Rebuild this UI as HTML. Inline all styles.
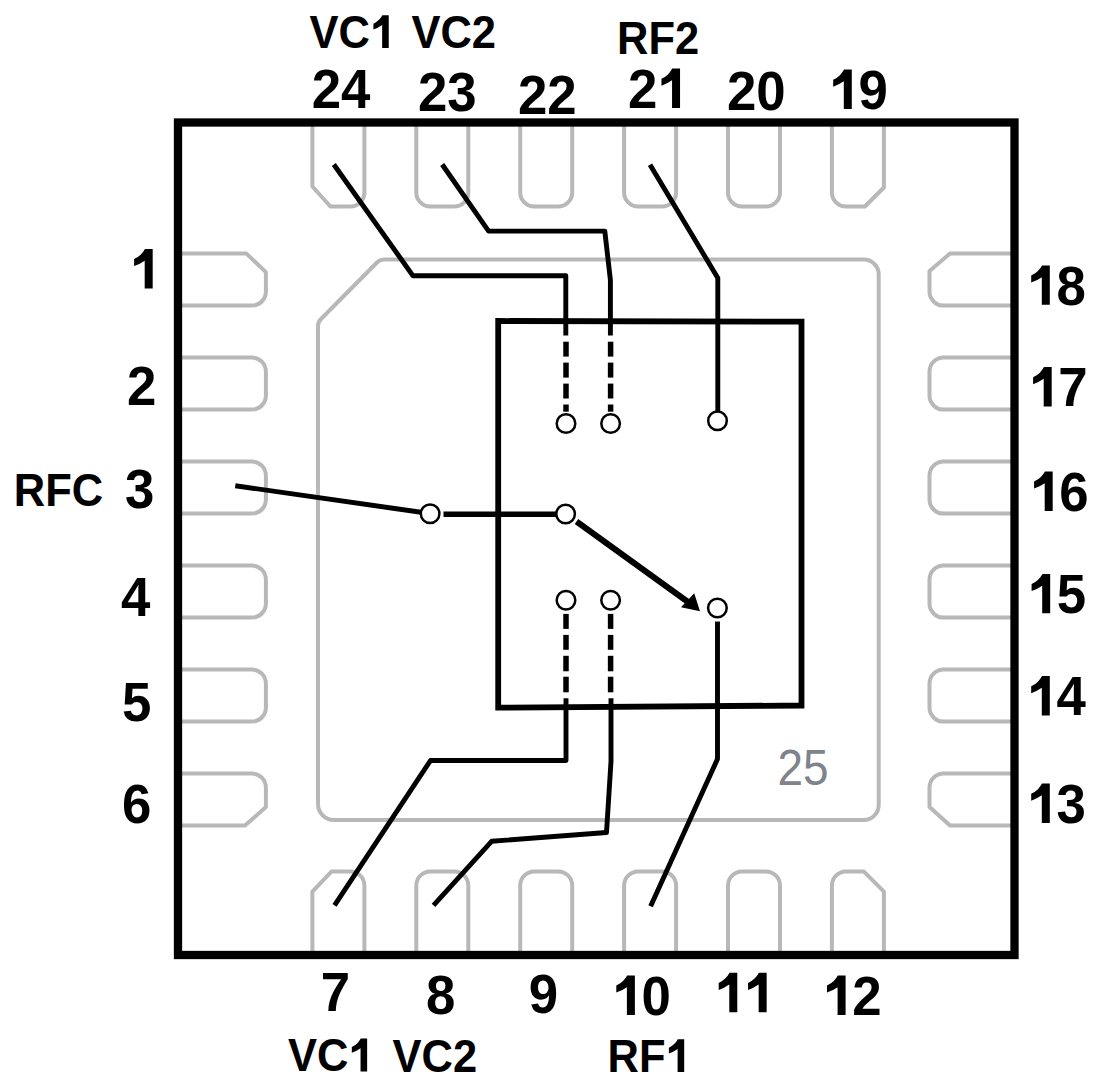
<!DOCTYPE html>
<html><head><meta charset="utf-8"><style>
html,body{margin:0;padding:0;background:#fff;width:1100px;height:1087px;overflow:hidden}
svg{position:absolute;left:0;top:0}
</style></head><body>
<svg width="1100" height="1087" viewBox="0 0 1100 1087">
<g fill="none" stroke="#b8b8b8" stroke-width="4" stroke-linejoin="round">
<path d="M312.4,120 V186.5 L330.4,206.5 H350.4 A14,14 0 0 0 364.4,192.5 V120"/>
<path d="M416.3,120 V192.5 A14,14 0 0 0 430.3,206.5 H454.3 A14,14 0 0 0 468.3,192.5 V120"/>
<path d="M520.2,120 V192.5 A14,14 0 0 0 534.2,206.5 H558.2 A14,14 0 0 0 572.2,192.5 V120"/>
<path d="M624.1,120 V192.5 A14,14 0 0 0 638.1,206.5 H662.1 A14,14 0 0 0 676.1,192.5 V120"/>
<path d="M728.0,120 V192.5 A14,14 0 0 0 742.0,206.5 H766.0 A14,14 0 0 0 780.0,192.5 V120"/>
<path d="M831.9,120 V192.5 A14,14 0 0 0 845.9,206.5 H864.9 L883.9,187.5 V120"/>
<path d="M312.4,958 V891.6 L331.4,871.6 H350.4 A14,14 0 0 1 364.4,885.6 V958"/>
<path d="M416.3,958 V885.6 A14,14 0 0 1 430.3,871.6 H454.3 A14,14 0 0 1 468.3,885.6 V958"/>
<path d="M520.2,958 V885.6 A14,14 0 0 1 534.2,871.6 H558.2 A14,14 0 0 1 572.2,885.6 V958"/>
<path d="M624.1,958 V885.6 A14,14 0 0 1 638.1,871.6 H662.1 A14,14 0 0 1 676.1,885.6 V958"/>
<path d="M728.0,958 V885.6 A14,14 0 0 1 742.0,871.6 H766.0 A14,14 0 0 1 780.0,885.6 V958"/>
<path d="M831.9,958 V885.6 A14,14 0 0 1 845.9,871.6 H863.9 L883.9,891.6 V958"/>
<path d="M176,253.6 H246.4 L265.9,272.1 V291.6 A14,14 0 0 1 251.9,305.6 H176"/>
<path d="M176,357.6 H251.9 A14,14 0 0 1 265.9,371.6 V395.6 A14,14 0 0 1 251.9,409.6 H176"/>
<path d="M176,461.6 H251.9 A14,14 0 0 1 265.9,475.6 V499.6 A14,14 0 0 1 251.9,513.6 H176"/>
<path d="M176,565.6 H251.9 A14,14 0 0 1 265.9,579.6 V603.6 A14,14 0 0 1 251.9,617.6 H176"/>
<path d="M176,669.6 H251.9 A14,14 0 0 1 265.9,683.6 V707.6 A14,14 0 0 1 251.9,721.6 H176"/>
<path d="M176,773.6 H251.9 A14,14 0 0 1 265.9,787.6 V807.1 L244.9,825.6 H176"/>
<path d="M1016,253.6 H950.0 L929.5,271.1 V291.6 A14,14 0 0 0 943.5,305.6 H1016"/>
<path d="M1016,357.6 H943.5 A14,14 0 0 0 929.5,371.6 V395.6 A14,14 0 0 0 943.5,409.6 H1016"/>
<path d="M1016,461.6 H943.5 A14,14 0 0 0 929.5,475.6 V499.6 A14,14 0 0 0 943.5,513.6 H1016"/>
<path d="M1016,565.6 H943.5 A14,14 0 0 0 929.5,579.6 V603.6 A14,14 0 0 0 943.5,617.6 H1016"/>
<path d="M1016,669.6 H943.5 A14,14 0 0 0 929.5,683.6 V707.6 A14,14 0 0 0 943.5,721.6 H1016"/>
<path d="M1016,773.6 H943.5 A14,14 0 0 0 929.5,787.6 V807.1 L950.0,825.6 H1016"/>
<path d="M318,326 Q318,322 321,319 L377,262.5 Q380,259.5 384,259.5 H864 A15,15 0 0 1 878.7,274.5 V805 A15,15 0 0 1 863.7,820 H334 A16,16 0 0 1 318,804 Z"/>
</g>
<rect x="178" y="122.5" width="836.5" height="832.5" fill="none" stroke="#000" stroke-width="8.3"/>
<path d="M498.2,321 L801.5,321.7 L801.5,705.5 L498.2,707.7 Z" fill="none" stroke="#000" stroke-width="5.8"/>
<g fill="none" stroke="#000" stroke-width="4.9" stroke-linejoin="round">
<path d="M333.8,164.5 L413,275.8 H565.8 V335.5"/>
<path d="M442.2,164.5 L488.6,231.1 H604.8 L610.4,280 V335.5"/>
<path d="M650,164.7 L717.8,278 V411.5"/>
<path d="M235.3,485.7 L421,512.3"/>
<path d="M717.5,621.5 V759 L650.6,906.3"/>
<path d="M566,698.3 V760.5 H430.5 L334.5,905.3"/>
<path d="M611,698.3 V761.3 L606.5,832.5 L491.6,841.3 L433.5,905.3"/>
</g>
<g stroke="#000">
<line x1="566" y1="341.7" x2="566" y2="356.6" stroke-width="5.5"/>
<line x1="566" y1="362.6" x2="566" y2="377.6" stroke-width="5.5"/>
<line x1="566" y1="383.6" x2="566" y2="398.5" stroke-width="5.5"/>
<line x1="566" y1="404.5" x2="566" y2="411.7" stroke-width="5.5"/>
<line x1="610.6" y1="341.7" x2="610.6" y2="356.6" stroke-width="5.5"/>
<line x1="610.6" y1="362.6" x2="610.6" y2="377.6" stroke-width="5.5"/>
<line x1="610.6" y1="383.6" x2="610.6" y2="398.5" stroke-width="5.5"/>
<line x1="610.6" y1="404.5" x2="610.6" y2="411.7" stroke-width="5.5"/>
<line x1="566" y1="613.9" x2="566" y2="628.9" stroke-width="5.5"/>
<line x1="566" y1="634.9" x2="566" y2="649.8" stroke-width="5.5"/>
<line x1="566" y1="655.8" x2="566" y2="671.3" stroke-width="5.5"/>
<line x1="566" y1="676.7" x2="566" y2="692.3" stroke-width="5.5"/>
<line x1="610.6" y1="613.9" x2="610.6" y2="628.9" stroke-width="5.5"/>
<line x1="610.6" y1="634.9" x2="610.6" y2="649.8" stroke-width="5.5"/>
<line x1="610.6" y1="655.8" x2="610.6" y2="671.3" stroke-width="5.5"/>
<line x1="610.6" y1="676.7" x2="610.6" y2="692.3" stroke-width="5.5"/>
</g>
<g fill="#fff" stroke="#000" stroke-width="2.5">
<circle cx="566" cy="423.5" r="9.3"/>
<circle cx="610.6" cy="423.5" r="9.3"/>
<circle cx="717.5" cy="420.7" r="9.3"/>
<circle cx="430.1" cy="513.7" r="9.3"/>
<circle cx="565.6" cy="514" r="9.3"/>
<circle cx="566" cy="600.2" r="9.3"/>
<circle cx="610.6" cy="600.2" r="9.3"/>
<circle cx="717.4" cy="608" r="9.3"/>
</g>
<path d="M443.5,514.2 H556" fill="none" stroke="#000" stroke-width="5.6"/>
<path d="M576.5,521.5 L688,602" fill="none" stroke="#000" stroke-width="6"/>
<polygon points="700,611.3 681,607.2 694.2,593.3" fill="#000"/>
<g font-family="Liberation Sans" font-weight="bold" fill="#000">
<g><text x="309.60" y="48.00" transform-origin="309.60 48.00" font-size="45.8" style="transform:scaleX(0.95)">VC</text><path transform="translate(370.04,48.00) scale(0.02125,-0.02236)" d="M880,0 H570 V1030 Q380,900 159,830 V1090 Q320,1160 420,1260 Q520,1360 580,1466 H880 Z"/></g>
<g><text x="411.40" y="48.00" transform-origin="411.40 48.00" font-size="45.8" style="transform:scaleX(0.95)">VC2</text></g>
<g><text x="617.00" y="53.80" transform-origin="617.00 53.80" font-size="45.8" style="transform:scaleX(0.95)">RF2</text></g>
<g><text x="311.70" y="108.10" transform-origin="311.70 108.10" font-size="55" style="transform:scaleX(0.96)">24</text></g>
<g><text x="418.00" y="111.00" transform-origin="418.00 111.00" font-size="55" style="transform:scaleX(0.96)">23</text></g>
<g><text x="518.00" y="113.80" transform-origin="518.00 113.80" font-size="55" style="transform:scaleX(0.96)">22</text></g>
<g><text x="628.00" y="108.00" transform-origin="628.00 108.00" font-size="55" style="transform:scaleX(0.96)">2</text><path transform="translate(657.36,108.00) scale(0.02578,-0.02686)" d="M880,0 H570 V1030 Q380,900 159,830 V1090 Q320,1160 420,1260 Q520,1360 580,1466 H880 Z"/></g>
<g><text x="727.00" y="110.00" transform-origin="727.00 110.00" font-size="55" style="transform:scaleX(0.96)">20</text></g>
<g><path transform="translate(829.10,109.00) scale(0.02578,-0.02686)" d="M880,0 H570 V1030 Q380,900 159,830 V1090 Q320,1160 420,1260 Q520,1360 580,1466 H880 Z"/><text x="858.46" y="109.00" transform-origin="858.46 109.00" font-size="55" style="transform:scaleX(0.96)">9</text></g>
<g><path transform="translate(130.00,288.40) scale(0.02578,-0.02686)" d="M880,0 H570 V1030 Q380,900 159,830 V1090 Q320,1160 420,1260 Q520,1360 580,1466 H880 Z"/></g>
<g><text x="126.90" y="405.10" transform-origin="126.90 405.10" font-size="55" style="transform:scaleX(0.96)">2</text></g>
<g><text x="13.80" y="506.20" transform-origin="13.80 506.20" font-size="45.8" style="transform:scaleX(0.95)">RFC</text></g>
<g><text x="125.10" y="508.40" transform-origin="125.10 508.40" font-size="55" style="transform:scaleX(0.96)">3</text></g>
<g><text x="121.10" y="615.80" transform-origin="121.10 615.80" font-size="55" style="transform:scaleX(0.96)">4</text></g>
<g><text x="121.90" y="720.90" transform-origin="121.90 720.90" font-size="55" style="transform:scaleX(0.96)">5</text></g>
<g><text x="121.90" y="823.00" transform-origin="121.90 823.00" font-size="55" style="transform:scaleX(0.96)">6</text></g>
<g><path transform="translate(1027.10,304.80) scale(0.02578,-0.02686)" d="M880,0 H570 V1030 Q380,900 159,830 V1090 Q320,1160 420,1260 Q520,1360 580,1466 H880 Z"/><text x="1056.46" y="304.80" transform-origin="1056.46 304.80" font-size="55" style="transform:scaleX(0.96)">8</text></g>
<g><path transform="translate(1029.00,406.50) scale(0.02578,-0.02686)" d="M880,0 H570 V1030 Q380,900 159,830 V1090 Q320,1160 420,1260 Q520,1360 580,1466 H880 Z"/><text x="1058.36" y="406.50" transform-origin="1058.36 406.50" font-size="55" style="transform:scaleX(0.96)">7</text></g>
<g><path transform="translate(1030.00,510.90) scale(0.02578,-0.02686)" d="M880,0 H570 V1030 Q380,900 159,830 V1090 Q320,1160 420,1260 Q520,1360 580,1466 H880 Z"/><text x="1059.36" y="510.90" transform-origin="1059.36 510.90" font-size="55" style="transform:scaleX(0.96)">6</text></g>
<g><path transform="translate(1027.50,613.30) scale(0.02578,-0.02686)" d="M880,0 H570 V1030 Q380,900 159,830 V1090 Q320,1160 420,1260 Q520,1360 580,1466 H880 Z"/><text x="1056.86" y="613.30" transform-origin="1056.86 613.30" font-size="55" style="transform:scaleX(0.96)">5</text></g>
<g><path transform="translate(1027.10,715.50) scale(0.02578,-0.02686)" d="M880,0 H570 V1030 Q380,900 159,830 V1090 Q320,1160 420,1260 Q520,1360 580,1466 H880 Z"/><text x="1056.46" y="715.50" transform-origin="1056.46 715.50" font-size="55" style="transform:scaleX(0.96)">4</text></g>
<g><path transform="translate(1027.10,823.00) scale(0.02578,-0.02686)" d="M880,0 H570 V1030 Q380,900 159,830 V1090 Q320,1160 420,1260 Q520,1360 580,1466 H880 Z"/><text x="1056.46" y="823.00" transform-origin="1056.46 823.00" font-size="55" style="transform:scaleX(0.96)">3</text></g>
<g><text x="320.80" y="1011.40" transform-origin="320.80 1011.40" font-size="55" style="transform:scaleX(0.96)">7</text></g>
<g><text x="425.90" y="1013.60" transform-origin="425.90 1013.60" font-size="55" style="transform:scaleX(0.96)">8</text></g>
<g><text x="528.70" y="1013.00" transform-origin="528.70 1013.00" font-size="55" style="transform:scaleX(0.96)">9</text></g>
<g><path transform="translate(612.20,1014.90) scale(0.02578,-0.02686)" d="M880,0 H570 V1030 Q380,900 159,830 V1090 Q320,1160 420,1260 Q520,1360 580,1466 H880 Z"/><text x="641.56" y="1014.90" transform-origin="641.56 1014.90" font-size="55" style="transform:scaleX(0.96)">0</text></g>
<g><path transform="translate(714.60,1012.20) scale(0.02578,-0.02686)" d="M880,0 H570 V1030 Q380,900 159,830 V1090 Q320,1160 420,1260 Q520,1360 580,1466 H880 Z"/><path transform="translate(743.96,1012.20) scale(0.02578,-0.02686)" d="M880,0 H570 V1030 Q380,900 159,830 V1090 Q320,1160 420,1260 Q520,1360 580,1466 H880 Z"/></g>
<g><path transform="translate(822.90,1014.90) scale(0.02578,-0.02686)" d="M880,0 H570 V1030 Q380,900 159,830 V1090 Q320,1160 420,1260 Q520,1360 580,1466 H880 Z"/><text x="852.26" y="1014.90" transform-origin="852.26 1014.90" font-size="55" style="transform:scaleX(0.96)">2</text></g>
<g><text x="288.00" y="1071.40" transform-origin="288.00 1071.40" font-size="45.8" style="transform:scaleX(0.95)">VC</text><path transform="translate(348.44,1071.40) scale(0.02125,-0.02236)" d="M880,0 H570 V1030 Q380,900 159,830 V1090 Q320,1160 420,1260 Q520,1360 580,1466 H880 Z"/></g>
<g><text x="392.60" y="1072.00" transform-origin="392.60 1072.00" font-size="45.8" style="transform:scaleX(0.95)">VC2</text></g>
<g><text x="607.50" y="1072.00" transform-origin="607.50 1072.00" font-size="45.8" style="transform:scaleX(0.95)">RF</text><path transform="translate(665.50,1072.00) scale(0.02125,-0.02236)" d="M880,0 H570 V1030 Q380,900 159,830 V1090 Q320,1160 420,1260 Q520,1360 580,1466 H880 Z"/></g>
</g>
<text x="777.50" y="785.00" transform-origin="777.50 785.00" style="transform:scaleX(0.92)" font-family="Liberation Sans" font-size="50" fill="#7f838b">25</text>
</svg>
</body></html>
